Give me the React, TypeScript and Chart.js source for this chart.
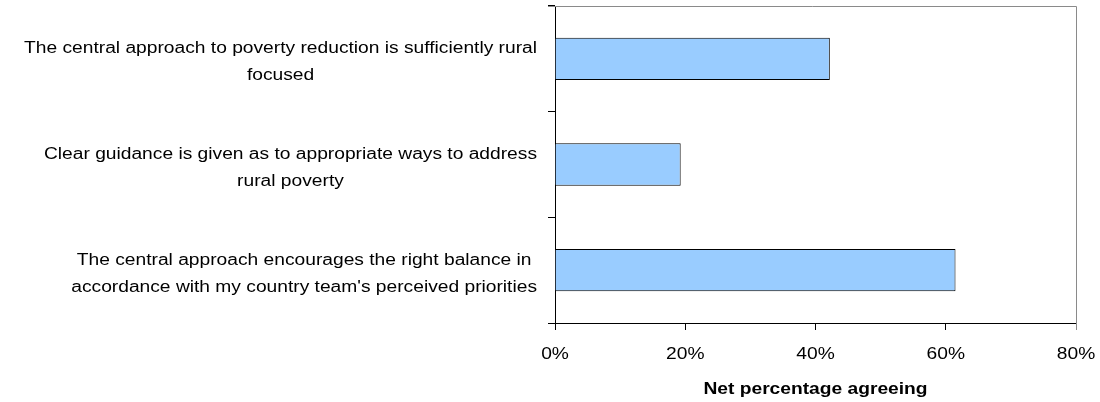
import React, { useEffect, useRef } from "react";
import { Chart, registerables } from "chart.js";

Chart.register(...registerables);

// Survey statements, already wrapped into display lines (top to bottom)
const categories: string[][] = [
  ["The central approach to poverty reduction is sufficiently rural", "focused"],
  ["Clear guidance is given as to appropriate ways to address", "rural poverty"],
  ["The central approach encourages the right balance in", "accordance with my country team's perceived priorities"],
];

// Net percentage agreeing with each statement
const netAgreeing: number[] = [42.2, 19.3, 61.5];

// Horizontal axis ticks
const xTicks: number[] = [0, 20, 40, 60, 80];
const xTitle = "Net percentage agreeing";

const FONT_FAMILY = '"Liberation Sans", Arial, sans-serif';
const TEXT_STRETCH = 1.2;
const LINE_GAP = 27;

function stretchedText(
  ctx: CanvasRenderingContext2D,
  text: string,
  x: number,
  y: number,
  align: CanvasTextAlign
) {
  ctx.save();
  ctx.translate(x, y);
  ctx.scale(TEXT_STRETCH, 1);
  ctx.textAlign = align;
  ctx.textBaseline = "alphabetic";
  ctx.fillText(text, 0, 0);
  ctx.restore();
}

const frameAndText = {
  id: "frameAndText",
  afterDraw(chart: any) {
    const { ctx, chartArea, scales } = chart;
    const xs = scales.x;
    const ys = scales.y;

    // grey frame on the top and right of the plot area
    ctx.save();
    ctx.strokeStyle = "#8a8a8a";
    ctx.lineWidth = 1;
    ctx.beginPath();
    ctx.moveTo(chartArea.left - 7, chartArea.top + 0.5);
    ctx.lineTo(chartArea.right + 0.5, chartArea.top + 0.5);
    ctx.lineTo(chartArea.right + 0.5, chartArea.bottom + 7);
    ctx.stroke();
    ctx.restore();

    ctx.save();
    ctx.fillStyle = "#000";

    // category labels: block right-aligned, lines centred within the block
    ctx.font = `16px ${FONT_FAMILY}`;
    categories.forEach((lines, i) => {
      const cy = ys.getPixelForValue(i);
      const widths = lines.map((l) => ctx.measureText(l).width * TEXT_STRETCH);
      const blockW = Math.max(...widths);
      const cx = chartArea.left - 18 - blockW / 2;
      lines.forEach((line, k) => {
        const by = cy + 8 + (k - (lines.length - 1) / 2) * LINE_GAP;
        stretchedText(ctx, line, cx, by, "center");
      });
    });

    // value axis tick labels
    xTicks.forEach((v) => {
      const px = xs.getPixelForValue(v);
      stretchedText(ctx, `${v}%`, px, 358.5, "center");
    });

    // value axis title
    ctx.font = `bold 16px ${FONT_FAMILY}`;
    stretchedText(ctx, xTitle, (chartArea.left + chartArea.right) / 2, 393.5, "center");
    ctx.restore();
  },
};

export default function App() {
  const canvasRef = useRef<HTMLCanvasElement | null>(null);

  useEffect(() => {
    if (!canvasRef.current) return;
    const chart = new Chart(canvasRef.current, {
      type: "bar",
      data: {
        labels: categories.map((c) => c.join(" ")),
        datasets: [
          {
            data: netAgreeing,
            backgroundColor: "#99CCFF",
            borderColor: "#000000",
            borderWidth: 1,
            borderSkipped: "start",
            barPercentage: 0.4,
            categoryPercentage: 1,
          },
        ],
      },
      options: {
        indexAxis: "y",
        animation: false,
        responsive: false,
        maintainAspectRatio: false,
        devicePixelRatio: 1,
        layout: { padding: { top: 6, right: 24, left: 0, bottom: 0 } },
        plugins: {
          legend: { display: false },
          tooltip: { enabled: false },
          title: { display: false },
        },
        scales: {
          x: {
            type: "linear",
            min: xTicks[0],
            max: xTicks[xTicks.length - 1],
            ticks: { stepSize: 20, display: false },
            grid: {
              drawOnChartArea: false,
              drawTicks: true,
              tickLength: 7,
              color: "#000",
              lineWidth: 1,
            },
            border: { display: true, color: "#000", width: 1 },
            afterFit(scale: any) {
              scale.height = 79;
            },
          },
          y: {
            type: "category",
            ticks: { display: false },
            grid: {
              offset: true,
              drawOnChartArea: false,
              drawTicks: true,
              tickLength: 7,
              color: "#000",
              lineWidth: 1,
            },
            border: { display: true, color: "#000", width: 1 },
            afterFit(scale: any) {
              scale.width = 555;
            },
          },
        },
      },
      plugins: [frameAndText],
    });
    return () => chart.destroy();
  }, []);

  return (
    <div style={{ position: "fixed", left: 0, top: 0, width: 1100, height: 402, background: "#fff" }}>
      <canvas ref={canvasRef} width={1100} height={402} style={{ width: 1100, height: 402, display: "block" }} />
    </div>
  );
}
